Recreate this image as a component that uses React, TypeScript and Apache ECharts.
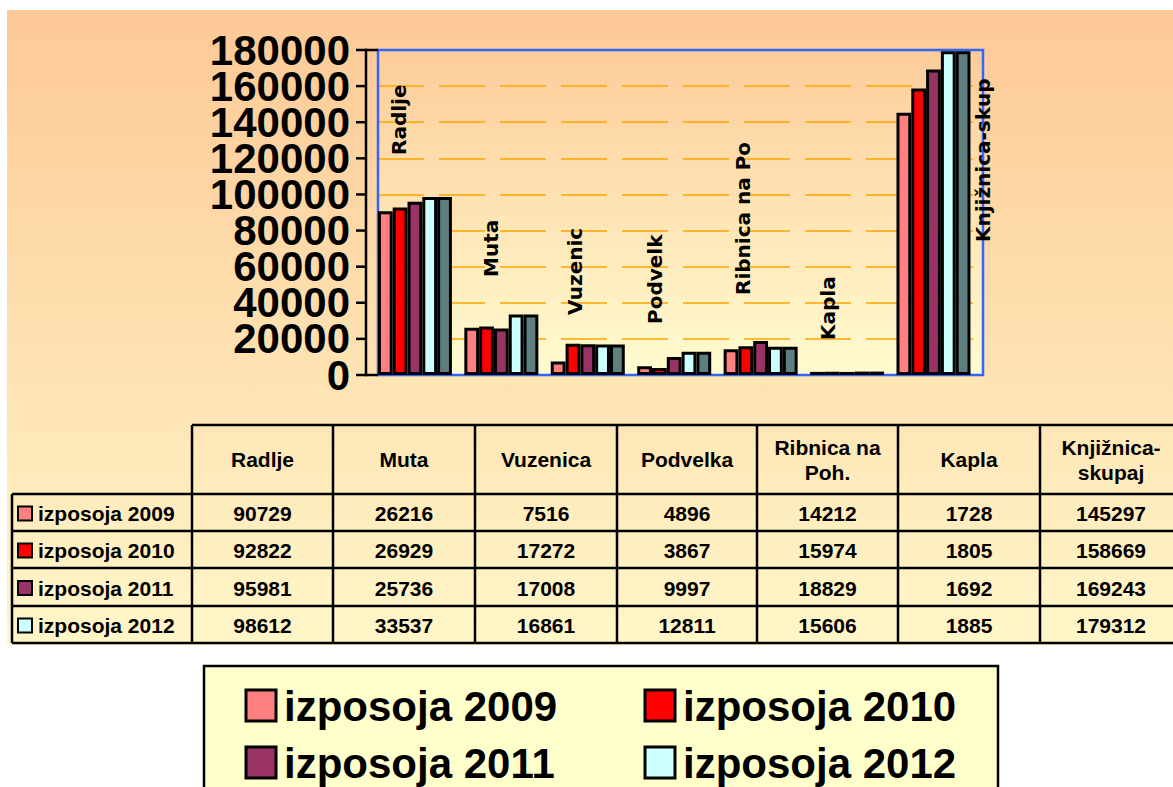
import React, { useEffect, useRef } from "react";
import * as echarts from "echarts";

const categories = ["Radlje", "Muta", "Vuzenica", "Podvelka", "Ribnica na Poh.", "Kapla", "Knjižnica-skupaj"];
const headerLabels = ["Radlje", "Muta", "Vuzenica", "Podvelka", "Ribnica na\nPoh.", "Kapla", "Knjižnica-\nskupaj"];
const plotLabels = ["Radlje", "Muta", "Vuzenic", "Podvelk", "Ribnica na Po", "Kapla", "Knjižnica-skup"];
const seriesNames = ["izposoja 2009", "izposoja 2010", "izposoja 2011", "izposoja 2012"];
const v2009 = [90729, 26216, 7516, 4896, 14212, 1728, 145297];
const v2010 = [92822, 26929, 17272, 3867, 15974, 1805, 158669];
const v2011 = [95981, 25736, 17008, 9997, 18829, 1692, 169243];
const v2012 = [98612, 33537, 16861, 12811, 15606, 1885, 179312];
const seriesValues = [v2009, v2010, v2011, v2012];
const seriesColors = ["#FF8080", "#FF0000", "#993366", "#CCFFFF"];
const sideColor = "#5F7F7F";
const yMin = 0;
const yMax = 180000;
const yStep = 20000;

const FONT = "Liberation Sans";

export default function App() {
  const ref = useRef<HTMLDivElement>(null);
  useEffect(() => {
    if (!ref.current) return;
    const chart = echarts.init(ref.current, null, { renderer: "svg" });

    const plotTop = 50;
    const plotBottom = 375;
    const axisX = 366;

    const graphics: any[] = [];
    graphics.push({
      type: "rect",
      z: -100,
      shape: { x: 7, y: 10, width: 1170, height: 635 },
      style: {
        fill: new echarts.graphic.LinearGradient(0, 0, 0, 1, [
          { offset: 0, color: "#FDC996" },
          { offset: 1, color: "#FFF6C8" },
        ]),
      },
    });
    // plot area background
    graphics.push({
      type: "rect",
      z: -90,
      shape: { x: 378, y: plotTop, width: 605, height: plotBottom - plotTop },
      style: {
        fill: new echarts.graphic.LinearGradient(0, 0, 0, 1, [
          { offset: 0, color: "#FDCC9A" },
          { offset: 1, color: "#FFFCD0" },
        ]),
      },
    });
    graphics.push({
      type: "rect",
      z: 1,
      shape: { x: 378, y: plotTop, width: 605, height: plotBottom - plotTop },
      style: { fill: "none", stroke: "#3366FF", lineWidth: 2.5 },
    });

    const labelPos = [
      [399, 155], [491, 277], [575, 315], [655, 324], [743, 295], [828, 340], [983, 242],
    ];
    plotLabels.forEach((t, i) => {
      graphics.push({
        type: "text",
        z: 50,
        x: labelPos[i][0],
        y: labelPos[i][1],
        rotation: Math.PI / 2,
        style: {
          text: t,
          font: `bold 20px DejaVu Sans`,
          fill: "#000",
          textAlign: "left",
          textVerticalAlign: "middle",
        },
      });
    });

    const colX = [192, 333, 475, 617, 757, 898, 1040, 1182];
    const rowY = [425, 494, 531, 568, 606, 643];
    const lineStyle = { stroke: "#000", lineWidth: 2.5 };
    graphics.push({ type: "line", z: 60, shape: { x1: 192, y1: rowY[0], x2: 1182, y2: rowY[0] }, style: lineStyle });
    for (let r = 1; r < rowY.length; r++) {
      graphics.push({ type: "line", z: 60, shape: { x1: 12, y1: rowY[r], x2: 1182, y2: rowY[r] }, style: lineStyle });
    }
    graphics.push({ type: "line", z: 60, shape: { x1: 12, y1: rowY[1], x2: 12, y2: rowY[5] }, style: lineStyle });
    colX.forEach((x) => {
      graphics.push({ type: "line", z: 60, shape: { x1: x, y1: rowY[0], x2: x, y2: rowY[5] }, style: lineStyle });
    });
    headerLabels.forEach((h, i) => {
      graphics.push({
        type: "text",
        z: 61,
        x: (colX[i] + colX[i + 1]) / 2,
        y: (rowY[0] + rowY[1]) / 2,
        style: {
          text: h,
          font: `bold 21px ${FONT}`,
          fill: "#000",
          textAlign: "center",
          textVerticalAlign: "middle",
          lineHeight: 25,
        },
      });
    });
    seriesNames.forEach((name, s) => {
      const cy = (rowY[s + 1] + rowY[s + 2]) / 2 + 1;
      graphics.push({
        type: "rect",
        z: 61,
        shape: { x: 18, y: cy - 7, width: 14, height: 14 },
        style: { fill: seriesColors[s], stroke: "#000", lineWidth: 2 },
      });
      graphics.push({
        type: "text",
        z: 61,
        x: 38,
        y: cy,
        style: { text: name, font: `bold 21px ${FONT}`, fill: "#000", textAlign: "left", textVerticalAlign: "middle" },
      });
      seriesValues[s].forEach((v, i) => {
        graphics.push({
          type: "text",
          z: 61,
          x: (colX[i] + colX[i + 1]) / 2,
          y: cy,
          style: { text: String(v), font: `bold 21px ${FONT}`, fill: "#000", textAlign: "center", textVerticalAlign: "middle" },
        });
      });
    });

    graphics.push({
      type: "rect",
      z: 70,
      shape: { x: 204, y: 666, width: 794, height: 130 },
      style: { fill: "#FFFFCC", stroke: "#000", lineWidth: 2.5 },
    });
    const legendPos = [
      [246, 705], [645, 705], [246, 762], [645, 762],
    ];
    seriesNames.forEach((name, s) => {
      const [lx, ly] = legendPos[s];
      graphics.push({
        type: "rect",
        z: 71,
        shape: { x: lx, y: ly - 15, width: 30, height: 31 },
        style: { fill: seriesColors[s], stroke: "#000", lineWidth: 3 },
      });
      graphics.push({
        type: "text",
        z: 71,
        x: lx + 38,
        y: ly + 1,
        style: { text: name, font: `bold 42px ${FONT}`, fill: "#000", textAlign: "left", textVerticalAlign: "middle" },
      });
    });

    // black value axis line and ticks
    graphics.push({
      type: "rect",
      z: 1000,
      shape: { x: axisX - 1.25, y: plotTop - 1.25, width: 2.5, height: plotBottom - plotTop + 2.5 },
      style: { fill: "#000000" },
    });
    const nTicks = Math.round((yMax - yMin) / yStep);
    for (let k = 0; k <= nTicks; k++) {
      const py = plotBottom - ((plotBottom - plotTop) * k) / nTicks;
      const x2 = k === 0 || k === nTicks ? 378 : axisX;
      graphics.push({
        type: "rect",
        z: 1000,
        shape: { x: axisX - 10, y: py - 1.25, width: x2 - (axisX - 10), height: 2.5 },
        style: { fill: "#000000" },
      });
    }

    const barSeries: any[] = seriesNames.map((name, s) => ({
      name,
      type: "bar",
      data: seriesValues[s],
      barWidth: 14.8,
      barGap: "0%",
      itemStyle: { color: seriesColors[s], borderColor: "#000", borderWidth: 3 },
    }));
    barSeries.push({
      name: "izposoja 2012 (stranica)",
      type: "bar",
      data: v2012,
      barWidth: 14.8,
      barGap: "0%",
      itemStyle: { color: sideColor, borderColor: "#000", borderWidth: 3 },
    });
    barSeries.push({
      name: "spacer",
      type: "bar",
      data: [],
      barWidth: 12.6,
      barGap: "0%",
    });

    const yBase = (even: boolean, showLine: boolean) => ({
      type: "value",
      min: yMin,
      max: yMax,
      interval: yStep,
      offset: 12,
      position: "left",
      axisLine: { show: false },
      axisTick: { show: false },
      axisLabel: {
        show: true,
        margin: 16,
        hideOverlap: false,
        showMinLabel: true,
        showMaxLabel: true,
        color: "#000",
        fontSize: 42,
        lineHeight: 34,
        fontWeight: "bold",
        fontFamily: FONT,
        formatter: (v: number) => ((Math.round(v / yStep) % 2 === 0) === even ? String(v) : ""),
      },
      splitLine: showLine
        ? { show: true, lineStyle: { color: "#FFA500", width: 1.5, type: [46, 15] } }
        : { show: false },
    });

    chart.setOption({
      animation: false,
      backgroundColor: "#FFFFFF",
      grid: {
        left: 378,
        top: plotTop,
        width: 605,
        height: plotBottom - plotTop,
        show: false,
        outerBoundsMode: "none",
      },
      xAxis: {
        type: "category",
        data: categories,
        axisLine: { show: false },
        axisTick: { show: false },
        axisLabel: { show: false },
        splitLine: { show: false },
      },
      yAxis: [yBase(true, true), yBase(false, false)],
      series: barSeries,
      graphic: graphics,
    });

    return () => chart.dispose();
  }, []);

  return <div ref={ref} style={{ position: "fixed", left: 0, top: 0, width: 1173, height: 787 }} />;
}
